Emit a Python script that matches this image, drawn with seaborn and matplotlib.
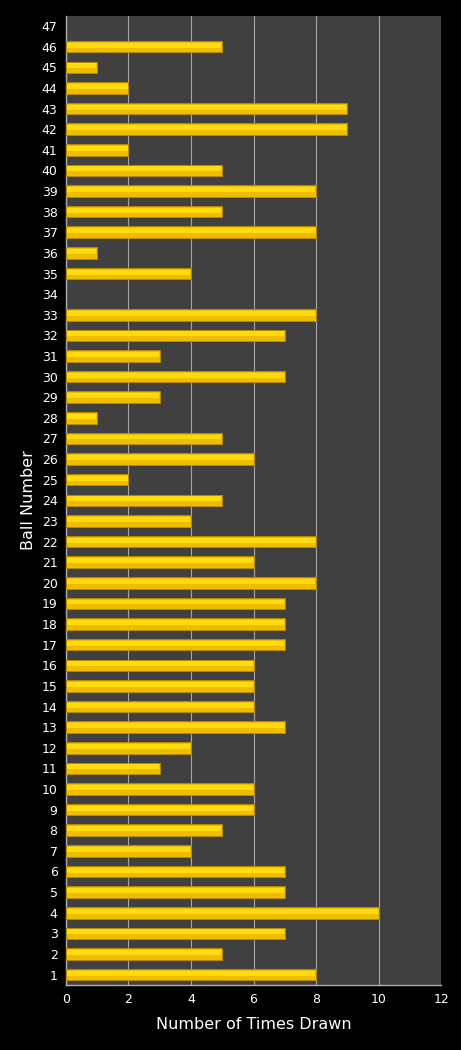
import matplotlib
matplotlib.use("Agg")
import matplotlib.pyplot as plt
import seaborn as sns
import pandas as pd

# Ball numbers and how often each was drawn
balls = list(range(1, 48))
times_drawn = [8, 5, 7, 10, 7, 7, 4, 5, 6, 6,
               3, 4, 7, 6, 6, 6, 7, 7, 7, 8,
               6, 8, 4, 5, 2, 6, 5, 1, 3, 7,
               3, 7, 8, 0, 4, 1, 8, 5, 8, 5,
               2, 9, 9, 2, 1, 5, 0]
x_ticks = [0, 2, 4, 6, 8, 10, 12]

df = pd.DataFrame({"ball": [str(b) for b in balls], "count": times_drawn})
order = [str(b) for b in reversed(balls)]

sns.set_style("dark")
fig, ax = plt.subplots(figsize=(4.61, 10.5), dpi=100)
fig.patch.set_facecolor("black")
fig.subplots_adjust(left=0.143, right=0.957, top=0.985, bottom=0.062)
ax.set_facecolor("#404040")

sns.barplot(data=df, x="count", y="ball", order=order, orient="h",
            color="#F0BC00", edgecolor="#B88A00", linewidth=0.7,
            width=0.56, saturation=1, ax=ax, zorder=3)
# lighter highlight stripe on each bar
sns.barplot(data=df, x="count", y="ball", order=order, orient="h",
            color="#FFDC0A", linewidth=0, width=0.24,
            saturation=1, ax=ax, zorder=4)
for p in ax.patches[:len(balls)]:
    if p.get_width() == 0:
        p.set_visible(False)
for p in ax.patches[len(balls):]:
    p.set_y(p.get_y() - 0.07)
    p.set_x(p.get_x() + 0.03)
    p.set_width(max(p.get_width() - 0.06, 0))

ax.set_xlim(0, 12)
ax.set_ylim(len(balls) - 0.5, -0.5)
ax.set_xticks(x_ticks)
ax.grid(axis="x", color="#A8A8A8", linewidth=0.8, zorder=0)
ax.grid(axis="y", visible=False)
ax.set_axisbelow(True)

ax.tick_params(axis="both", colors="white", labelsize=9, length=0, pad=6)
ax.set_xlabel("Number of Times Drawn", color="white", fontsize=11.5, labelpad=8)
ax.set_ylabel("Ball Number", color="white", fontsize=11.5, labelpad=4)

for side in ["top", "right"]:
    ax.spines[side].set_visible(False)
for side in ["left", "bottom"]:
    ax.spines[side].set_visible(True)
    ax.spines[side].set_color("#B0B0B0")
    ax.spines[side].set_linewidth(1)

fig.savefig("out.png", facecolor="black")
